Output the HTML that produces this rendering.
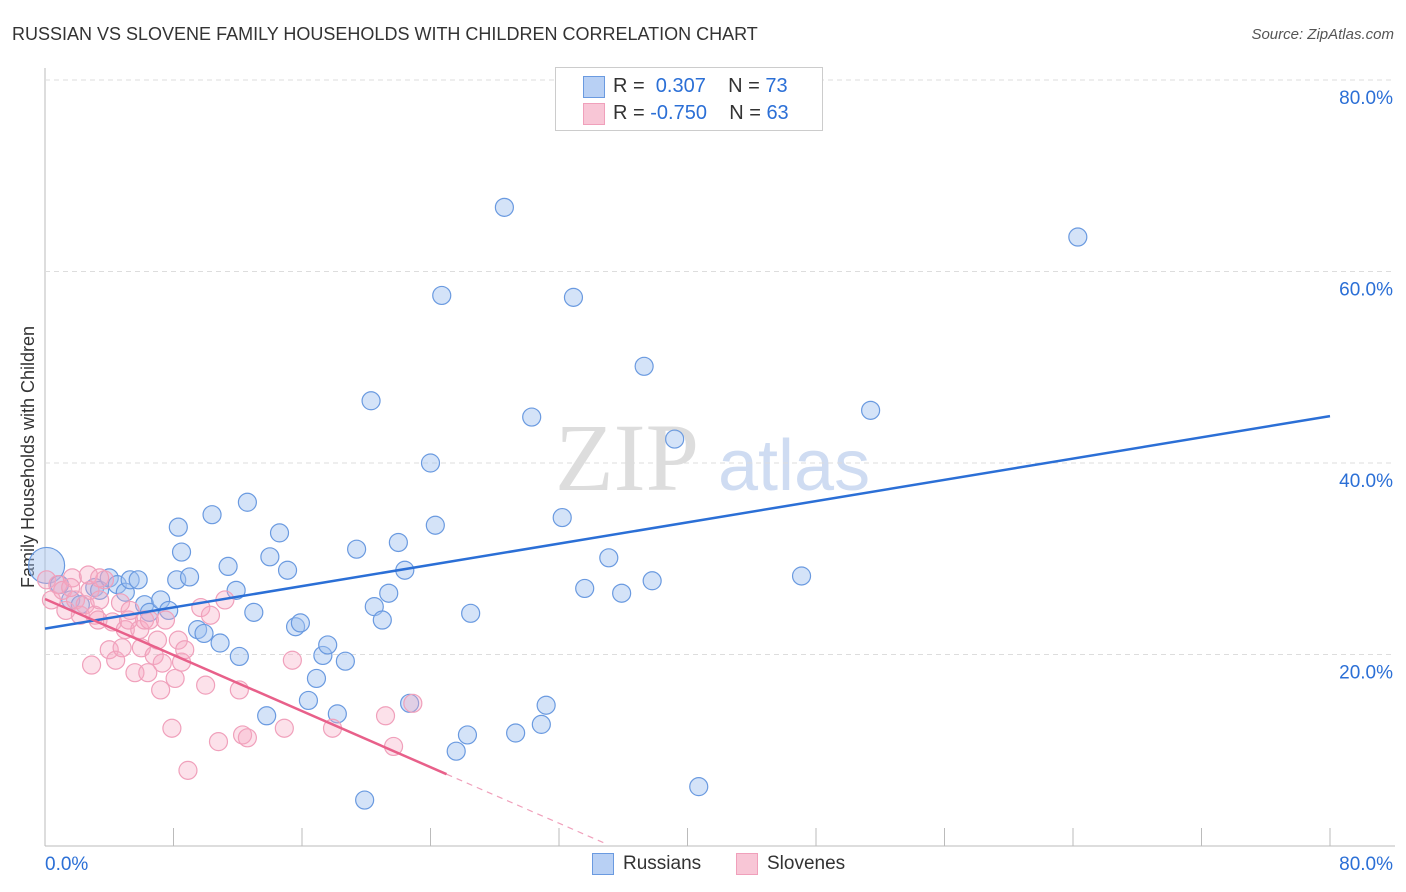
<!DOCTYPE html>
<html><head><meta charset="utf-8"><style>
body{margin:0;background:#fff;font-family:"Liberation Sans",sans-serif;}
#wrap{position:relative;width:1406px;height:892px;overflow:hidden}
</style></head><body>
<div id="wrap">
<svg id="svg" width="1406" height="892" xmlns="http://www.w3.org/2000/svg">
<text x="12" y="40" font-size="18" fill="#333">RUSSIAN VS SLOVENE FAMILY HOUSEHOLDS WITH CHILDREN CORRELATION CHART</text>
<text x="1394" y="39" font-size="15" fill="#555" font-style="italic" text-anchor="end">Source: ZipAtlas.com</text>
<text transform="translate(34,457) rotate(-90)" font-size="18" fill="#333" text-anchor="middle">Family Households with Children</text>
<text x="555" y="490" font-size="96" fill="#ddd" font-family="Liberation Serif,serif">ZIP</text>
<text x="718" y="490" font-size="72" fill="#cfdcf2">atlas</text>
<g id="grid"></g><g id="marks"></g>
</svg>
<div style="position:absolute;left:555px;top:67px;width:266px;height:62px;border:1px solid #ccc;background:#fff;font-size:20px;color:#333">
<div style="position:absolute;left:27px;top:8px;width:20px;height:20px;background:#b8d0f4;border:1px solid #6a9ae0"></div>
<div style="position:absolute;left:57px;top:7px">R = &nbsp;<span style="color:#2b6fd6">0.307</span>&nbsp;&nbsp;&nbsp; N = <span style="color:#2b6fd6">73</span></div>
<div style="position:absolute;left:27px;top:35px;width:20px;height:20px;background:#f8c6d6;border:1px solid #f0a0bb"></div>
<div style="position:absolute;left:57px;top:34px">R = <span style="color:#2b6fd6">-0.750</span>&nbsp;&nbsp;&nbsp; N = <span style="color:#2b6fd6">63</span></div>
</div>
<div style="position:absolute;left:592px;top:853px;width:20px;height:20px;background:#b8d0f4;border:1px solid #6a9ae0"></div>
<div style="position:absolute;left:623px;top:853px;font-size:19px;color:#333">Russians</div>
<div style="position:absolute;left:736px;top:853px;width:20px;height:20px;background:#f8c6d6;border:1px solid #f0a0bb"></div>
<div style="position:absolute;left:767px;top:853px;font-size:19px;color:#333">Slovenes</div>
</div>
<script>
const blueX=[0.1,0.9,1.6,2.2,3.1,3.4,4.0,4.5,5.0,5.3,5.8,6.2,6.5,7.2,7.7,8.2,8.3,8.5,9.0,9.5,9.9,10.4,10.9,11.4,11.9,12.1,12.6,13.0,13.8,14.0,14.6,15.1,15.6,15.9,16.4,16.9,17.3,17.6,18.2,18.7,19.4,19.9,20.3,20.5,21.0,21.4,22.0,22.4,22.7,24.0,24.3,24.7,25.6,26.3,26.5,28.6,29.3,30.3,30.9,31.2,32.2,32.9,33.6,35.1,35.9,37.3,37.8,39.2,40.7,47.1,51.4,64.3];
const blueY=[29.3,27.3,25.7,25.2,27.0,26.7,28.0,27.3,26.5,27.8,27.8,25.2,24.4,25.7,24.6,27.8,33.3,30.7,28.1,22.6,22.2,34.6,21.2,29.2,26.7,19.8,35.9,24.4,13.6,30.2,32.7,28.8,22.9,23.3,15.2,17.5,19.9,21.0,13.8,19.3,31.0,4.8,46.5,25.0,23.6,26.4,31.7,28.8,14.9,40.0,33.5,57.5,9.9,11.6,24.3,66.7,11.8,44.8,12.7,14.7,34.3,57.3,26.9,30.1,26.4,50.1,27.7,42.5,6.2,28.2,45.5,63.6];
const pinkX=[0.1,0.4,0.8,1.1,1.3,1.7,1.9,2.2,2.5,2.8,3.1,3.3,3.4,3.7,4.0,4.2,4.4,4.7,4.8,5.0,5.2,5.3,5.6,5.9,6.0,6.2,6.4,6.5,6.8,7.0,7.2,7.3,7.5,7.9,8.1,8.3,8.5,8.7,8.9,9.7,10.0,10.3,10.8,11.2,12.1,12.3,12.6,14.9,15.4,17.9,21.2,21.7,22.9,2.9,2.7,3.4,1.6];
const pinkY=[27.8,25.7,27.3,26.7,24.6,28.0,25.7,24.1,25.2,26.7,24.1,23.6,25.7,27.8,20.5,23.4,19.4,25.4,20.7,22.6,23.6,24.6,18.1,22.6,20.7,23.6,18.1,23.6,19.9,21.5,16.3,19.1,23.6,12.3,17.5,21.5,19.2,20.5,7.9,24.9,16.8,24.1,10.9,25.7,16.3,11.6,11.3,12.3,19.4,12.3,13.6,10.4,14.9,18.9,28.3,28.0,27.0];
const blueTrend=[22.7,44.9]; // at x=0, x=80
const pinkTrend=[25.8,-0.732]; // intercept, slope
const yTicks=[20,40,60,80];
const xTicks=[0,8,16,24,32,40,48,56,64,72,80];
const X0=45,X1=1330,Y0=846,Y80=80;
const sx=v=>X0+(X1-X0)*v/80, sy=v=>Y0-(Y0-Y80)*v/80;
const NS="http://www.w3.org/2000/svg";
function mk(p,t,a){const e=document.createElementNS(NS,t);for(const k in a)e.setAttribute(k,a[k]);p.appendChild(e);return e;}
const g=document.getElementById('grid'),m=document.getElementById('marks'),svg=document.getElementById('svg');
let ax=mk(g,'line',{x1:X0,y1:68,x2:X0,y2:Y0,stroke:'#bbb'});


let bx=mk(g,'line',{x1:X0,y1:Y0,x2:1395,y2:Y0,stroke:'#bbb'});


yTicks.forEach(v=>{
 let l=mk(g,'line',{x1:X0,y1:sy(v),x2:1395,y2:sy(v),stroke:'#ddd','stroke-dasharray':'5,4'});
 
 
 let t=mk(g,'text',{x:1393,y:sy(v)+24,'font-size':19,fill:'#2b6fd6','text-anchor':'end'});t.textContent=v.toFixed(1)+'%';
 
 
});
xTicks.forEach(v=>{
 let l=mk(g,'line',{x1:sx(v),y1:Y0,x2:sx(v),y2:Y0-18,stroke:'#bbb'});
 
 
});
[[0,'start',45],[80,'end',1393]].forEach(([v,a,px])=>{
 let t=mk(g,'text',{x:px,y:870,'font-size':19,fill:'#2b6fd6','text-anchor':a});t.textContent=v.toFixed(1)+'%';
 
 
});
blueX.forEach((x,i)=>{
 let c=mk(m,'circle',{cx:sx(x),cy:sy(blueY[i]),r:i==0?18:9,fill:'rgba(160,192,240,0.45)',stroke:'#6a9ae0','stroke-width':1.2});
 
 
});
pinkX.forEach((x,i)=>{
 let c=mk(m,'circle',{cx:sx(x),cy:sy(pinkY[i]),r:9,fill:'rgba(245,170,195,0.35)',stroke:'#f0a0bb','stroke-width':1.2});
 
 
});
let bl=mk(m,'line',{x1:sx(0),y1:sy(blueTrend[0]),x2:sx(80),y2:sy(blueTrend[1]),stroke:'#2b6fd6','stroke-width':2.5});


const pf=x=>pinkTrend[0]+pinkTrend[1]*x;
let pl=mk(m,'line',{x1:sx(0),y1:sy(pf(0)),x2:sx(25),y2:sy(pf(25)),stroke:'#e8608a','stroke-width':2.5});


let pd=mk(m,'line',{x1:sx(25),y1:sy(pf(25)),x2:sx(35),y2:sy(pf(35)),stroke:'#f0a0bb','stroke-width':1.2,'stroke-dasharray':'6,5'});


</script>
</body></html>
